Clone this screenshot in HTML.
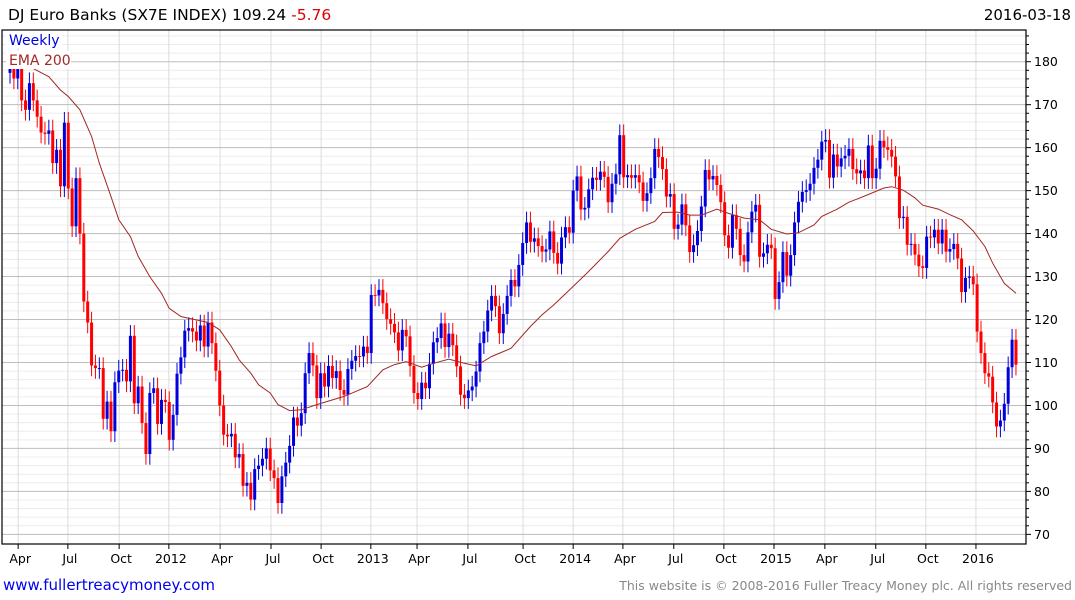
<!DOCTYPE html>
<html><head><meta charset="utf-8"><style>
body{margin:0;background:#fff;}
svg{display:block;font-family:"DejaVu Sans","Liberation Sans",sans-serif;}
</style></head><body>
<svg id="chart" width="1075" height="600" viewBox="0 0 1075 600">
<text x="8" y="20" font-size="15.5" fill="#000">DJ Euro Banks (SX7E INDEX) 109.24 <tspan fill="#e00000">-5.76</tspan></text>
<text x="1071" y="20" font-size="15" text-anchor="end" fill="#000">2016-03-18</text>
<g id="grid"></g>
<g id="marks"></g>
<g id="ema"></g>
<rect x="2" y="30" width="1024" height="514" fill="none" stroke="#000" stroke-width="1.2"/>
<g id="yaxis"></g>
<g id="xaxis"></g>
<rect x="6" y="31" width="56" height="17" fill="#fff"/>
<text x="9" y="45" font-size="14" fill="#0000dd">Weekly</text>
<rect x="6" y="51" width="65" height="18" fill="#fff"/>
<text x="9" y="65" font-size="14" fill="#a02828">EMA 200</text>
<text x="3" y="590" font-size="15" fill="#0000ee">www.fullertreacymoney.com</text>
<text x="1072" y="590" font-size="12.5" text-anchor="end" fill="#888">This website is © 2008-2016 Fuller Treacy Money plc. All rights reserved</text>
</svg>
<script>
const closes=[178.4,176.1,178.4,171,168.8,175,171,167.2,163.5,163.2,164,156.4,159.5,151,165.8,150.5,141.7,152.9,140,124.2,119.3,109.3,108.7,108.7,96.9,100.9,94,105.4,108.1,108.3,105.6,116.2,100.5,104.4,95.9,88.7,102.9,104,95.7,101.3,100.8,92,97.8,107.4,111.2,117.4,118,117.2,115.1,118.6,113.7,119.3,114.5,108.1,100,93.2,92.8,93.4,87.9,88.7,81.3,82,78.1,85.2,86,87.6,90,84.9,83.1,77.3,83.5,86.7,90.6,97.2,95.3,98.2,107.5,112.2,109.3,101.7,107.5,104.4,109.2,106.4,108,103.6,102.5,108.5,110.4,111.5,111.4,113.7,112.2,125.7,125.6,126.9,123.8,120.1,119,117,112.8,117.6,116.1,109.2,102.9,101.5,105.3,104,109.7,114.7,115.7,119.1,113.6,116.7,114,109.1,102.5,101.7,103.5,104.4,107.9,114.5,117.2,122.1,125.5,123.1,116.8,121.3,125.5,129.2,127.7,132.7,137.8,142.6,138.1,138.9,137.1,135.8,136.3,140.5,135.5,133,139.1,141.5,140.2,150,153.3,145.6,146,150.3,153,152.5,154.4,153.2,147.3,151.6,153.8,162.9,153.1,153.6,153,153.6,151.9,147.6,149.4,152.9,159.7,157.8,155,148.6,149.2,141.1,142.1,146.8,141.9,135.7,137.3,140.6,146.3,154.8,152.6,153.4,151.3,147.3,139.6,136.7,144.3,141.1,135,133.5,140.3,145.1,146.7,134.6,135.4,137.4,136.6,124.8,128.7,135.7,130.2,135,142.6,147.4,149.7,150.1,151.6,155.3,157.2,161.4,161.8,153,158.4,155.6,157.5,158.1,159.7,155,154,154.7,152.9,160.5,152.9,155.1,161.6,160.1,159.5,157.9,153.3,143.6,143.9,137.4,137.6,135.1,132.4,132,139.3,139.1,140.9,137.7,140.9,135.8,136.4,137.6,134.2,126.4,129.7,130,128.2,117.2,112.2,107.5,106.7,100.7,95.1,96.5,100.4,108.9,115.3,109.5];
const firstOpen=177.4;
const emaIdx=[3,6,10,13,15,18,21,23,26,28,31,33,36,39,41,44,46,51,54,57,59,62,64,67,69,72,75,79,86,92,96,99,102,106,109,113,117,120,124,129,134,137,140,145,149,154,157,161,166,168,172,175,178,182,185,189,193,196,200,203,207,209,213,216,218,221,225,227,230,233,235,239,242,245,248,251,253,256,259];
const emaVal=[179.6,178.4,176.5,173.4,171.9,168.8,162.6,156.4,148.6,143.2,139.3,134.7,130,126.1,122.6,120.7,120.3,119.3,117.6,113.7,110.6,107.5,104.8,102.9,100.2,98.8,99,100.2,102.1,104.4,108.3,109.5,110.2,108.9,109.8,110.8,109.8,109.2,111.4,113.3,118.4,121.1,123.4,127.7,131.2,135.8,138.9,141,142.8,144.9,145,144.3,144.3,145.7,144.7,143.6,143.2,141,139.9,140.2,142,144,145.7,147.3,148,149.1,150.6,150.9,150.1,148.3,146.6,145.7,144.4,143.2,140.6,137,133.1,128.4,126.1];
const yTicks=[70,80,90,100,110,120,130,140,150,160,170,180];
const xTickIdx=[2.1,14.9,28.1,40.9,54.1,67.2,80.1,92.9,104.8,117.9,132.1,145,157.8,170.9,183.8,196.7,209.8,222.9,235.8,248.7];
const xTickLabels=["Apr","Jul","Oct","2012","Apr","Jul","Oct","2013","Apr","Jul","Oct","2014","Apr","Jul","Oct","2015","Apr","Jul","Oct","2016"];
const NS="http://www.w3.org/2000/svg";
const X=i=>10+i*3.884;
const Y=v=>61.7+(180-v)*4.297;
function mk(tag,attrs,parent){const e=document.createElementNS(NS,tag);for(const k in attrs)e.setAttribute(k,attrs[k]);parent.appendChild(e);return e;}
const grid=document.getElementById('grid'),marks=document.getElementById('marks'),ema=document.getElementById('ema'),yaxis=document.getElementById('yaxis'),xaxis=document.getElementById('xaxis');
for(let v=70;v<=186;v+=2){
  if(v%10===0)continue;
  const l=mk('line',{x1:2,x2:1026,y1:Y(v),y2:Y(v),stroke:'#ececec','stroke-width':1},grid);
  
  
  const t=mk('line',{x1:1026,x2:1029,y1:Y(v),y2:Y(v),stroke:'#000','stroke-width':1},yaxis);
  
  
}
xTickIdx.forEach((ix,k)=>{
  const x=X(ix);
  const l=mk('line',{x1:x,x2:x,y1:30,y2:544,stroke:'#dcdcdc','stroke-width':1},grid);
  
  
  const t=mk('line',{x1:x,x2:x,y1:544,y2:549,stroke:'#000','stroke-width':1},xaxis);
  
  
  const tx=mk('text',{x:x+2,y:563,'font-size':12.5,'text-anchor':'middle',fill:'#000'},xaxis);
  tx.textContent=xTickLabels[k];
  
  
});
yTicks.forEach(v=>{
  const l=mk('line',{x1:2,x2:1026,y1:Y(v),y2:Y(v),stroke:'#bdbdbd','stroke-width':1},grid);
  
  
  const t=mk('line',{x1:1026,x2:1031,y1:Y(v),y2:Y(v),stroke:'#000','stroke-width':1},yaxis);
  
  
  const tx=mk('text',{x:1034,y:Y(v)+4.5,'font-size':12.5,fill:'#000'},yaxis);
  tx.textContent=v;
  
  
});
closes.forEach((c,i)=>{
  const o=i===0?firstOpen:closes[i-1];
  const up=c>=o;
  const col=up?'#0000dd':'#ff0000';
  const top=Math.max(o,c),bot=Math.min(o,c);
  const x=X(i);
  const w=mk('line',{x1:x,x2:x,y1:Y(top+2.5),y2:Y(bot-2.5),stroke:col,'stroke-width':1},marks);
  
  
  const r=mk('rect',{x:x-1.5,y:Y(top),width:3,height:Math.max(1,Y(bot)-Y(top)),fill:col},marks);
  
  
});
const p=mk('polyline',{points:emaIdx.map((ix,k)=>X(ix).toFixed(1)+','+Y(emaVal[k]).toFixed(1)).join(' '),fill:'none',stroke:'#a02828','stroke-width':1},ema);


</script>
</body></html>
